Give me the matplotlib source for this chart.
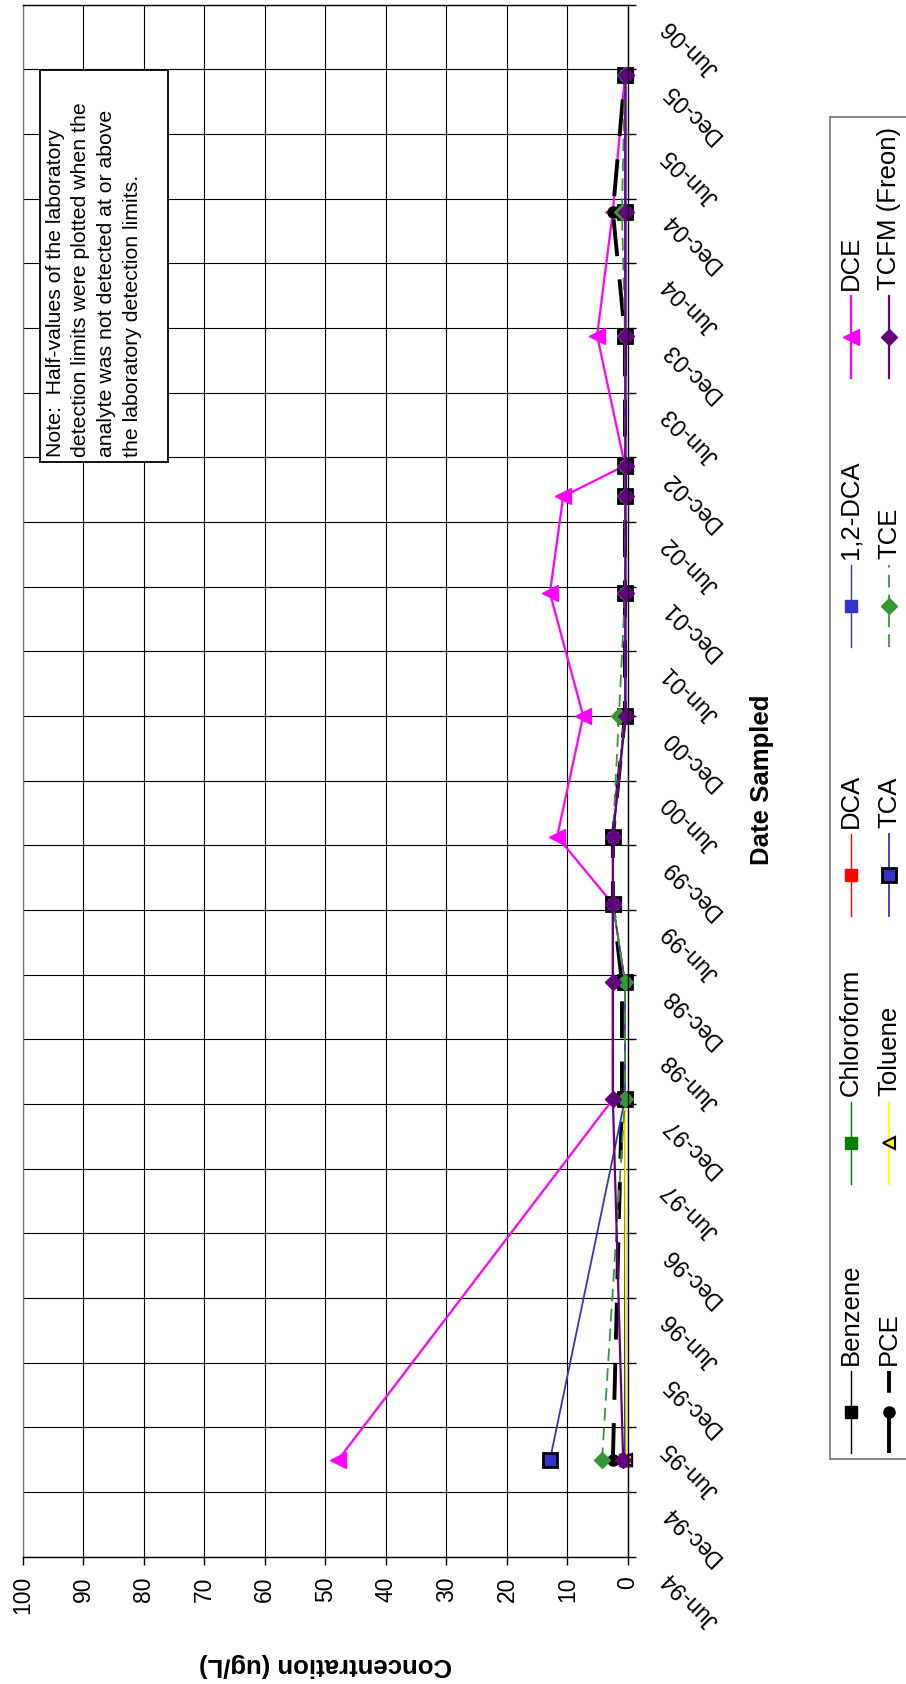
import matplotlib
matplotlib.use('Agg')
import matplotlib.pyplot as plt
import matplotlib.dates as mdates
import pandas as pd
from matplotlib.patches import Rectangle

plt.rcParams['font.family'] = ['Liberation Sans', 'DejaVu Sans']

# sample dates
sample_dates = pd.to_datetime([
    '1995-03-01', '1997-12-14', '1998-11-10', '1999-06-19', '1999-12-26', '2000-12-01',
    '2001-11-13', '2002-08-13', '2002-11-08', '2003-11-10', '2004-10-25', '2005-11-16'])

benzene = [0.5, 0.5, 0.5, 2.5, 2.5, 0.5, 0.5, 0.5, 0.5, 0.5, 0.5, 0.5]
chloroform = [0.5, 0.5, 0.5, 2.5, 2.5, 0.5, 0.5, 0.5, 0.5, 0.5, 0.5, 0.5]
dca = [0.25, 0.5, 0.5, 2.5, 2.5, 0.5, 0.5, 0.5, 0.5, 0.5, 0.5, 0.5]
dca_12 = [0.5, 0.5, 0.5, 2.5, 2.5, 0.5, 0.5, 0.5, 0.5, 0.5, 0.5, 0.5]
dce = [47.9, 2.5, 2.5, 2.5, 11.7, 7.4, 12.9, 10.7, 0.5, 5.1, 2.5, 0.5]
pce = [2.5, 1.0, 1.0, 2.5, 2.5, 0.5, 0.5, 0.5, 0.5, 0.5, 2.5, 0.5]
toluene = [0.25, 0.5, 0.5, 2.5, 2.5, 0.5, 0.5, 0.5, 0.5, 0.5, 0.5, 0.5]
tca = [12.9, 0.5, 0.5, 2.5, 2.5, 0.5, 0.5, 0.5, 0.5, 0.5, 0.5, 0.5]
tce = [4.3, 0.5, 0.5, 2.5, 2.5, 1.5, 0.5, 0.5, 0.5, 0.5, 1.0, 0.5]
tcfm = [0.8, 2.5, 2.5, 2.5, 2.5, 0.4, 0.4, 0.4, 0.4, 0.4, 0.4, 0.4]

series_names = ['Benzene', 'Chloroform', 'DCA', '1,2-DCA', 'DCE',
                'PCE', 'Toluene', 'TCA', 'TCE', 'TCFM (Freon)']
series_values = [benzene, chloroform, dca, dca_12, dce, pce, toluene, tca, tce, tcfm]

conc_ticks = list(range(0, 101, 10))
date_ticks = pd.date_range('1994-06-01', '2006-06-01', freq='6MS')
date_labels = [d.strftime('%b-%y') for d in date_ticks]

note = ("Note:  Half-values of the laboratory\n"
        "detection limits were plotted when the\n"
        "analyte was not detected at or above\n"
        "the laboratory detection limits.")

styles = [
    dict(color='black', lw=1.0, marker='s', ms=8.5, mfc='black', mec='black'),
    dict(color='#008000', lw=1.0, marker='s', ms=8.5, mfc='#008000', mec='#008000'),
    dict(color='#FF0000', lw=1.0, marker='s', ms=8.5, mfc='#FF0000', mec='#FF0000'),
    dict(color='#3333CC', lw=1.0, marker='s', ms=8.5, mfc='#3333CC', mec='#3333CC'),
    dict(color='#FF00FF', lw=1.6, marker='<', ms=11, mfc='#FF00FF', mec='#FF00FF'),
    dict(color='black', lw=2.8, ls=(0, (9.5, 6)), marker='o', ms=8, mfc='black', mec='black'),
    dict(color='#FFFF00', lw=1.3, marker='<', ms=8, mfc='#FFFF00', mec='black', mew=1.5),
    dict(color='#3333CC', lw=1.3, marker='s', ms=9.5, mfc='#3333CC', mec='black', mew=2),
    dict(color='#339933', lw=1.3, ls=(0, (7, 4)), marker='D', ms=8, mfc='#339933', mec='#339933'),
    dict(color='#660080', lw=1.6, marker='D', ms=8, mfc='#660080', mec='#660080'),
]

W, H = 906, 1684
fig = plt.figure(figsize=(W / 100, H / 100), dpi=100)
ax = fig.add_axes([22.7 / W, 1 - 1556.7 / H, 605.3 / W, 1551.7 / H])

for vals, st in zip(series_values, styles):
    ax.plot(vals, sample_dates, clip_on=False, **st)

ax.set_xlim(100, 0)
ax.set_ylim(date_ticks[0], date_ticks[-1])
ax.set_xticks(conc_ticks)
ax.set_xticklabels([str(v) for v in conc_ticks], rotation=90)
ax.set_yticks(date_ticks)
ax.yaxis.tick_right()
ax.tick_params(axis='y', labelright=False, length=6, width=1, direction='out')
ax.tick_params(axis='x', labelsize=16.5, length=6, width=1, direction='out', pad=8)
ax.grid(True, color='black', lw=0.8)
ax.set_axisbelow(True)
for sp in ax.spines.values():
    sp.set_color('black')
    sp.set_linewidth(1)
ax.spines['left'].set_color('#777777')

for d, lab in zip(date_ticks, date_labels):
    ax.annotate(lab, xy=(1, mdates.date2num(d)), xycoords=ax.get_yaxis_transform(),
                xytext=(38, -18), textcoords='offset pixels', rotation=135,
                rotation_mode='anchor', ha='right', va='center', fontsize=16.5)

# note box
ax.add_patch(Rectangle((0.0286, 0.7055), 0.2114, 0.2525, transform=ax.transAxes,
                       fc='white', ec='black', lw=1.3, zorder=5))
ax.text(0.038, 0.709, note, transform=ax.transAxes, rotation=90, ha='left', va='bottom',
        fontsize=15.3, linespacing=1.45, zorder=6)

fig.text(325 / W, 1 - 1665 / H, 'Concentration (ug/L)', rotation=180, ha='center',
         va='center', fontsize=18.5, fontweight='bold')
fig.text(762 / W, 1 - 780 / H, 'Date Sampled', rotation=90, ha='center',
         va='center', fontsize=18.5, fontweight='bold')

# legend, drawn by hand in pixel units so the entries can be rotated
lax = fig.add_axes([830 / W, 1 - 1459 / H, 0.2, (1459 - 117) / H])
lax.set_xlim(830, 830 + 0.2 * W)
lax.set_ylim(1459, 117)
lax.set_xticks([])
lax.set_yticks([])
lax.patch.set_alpha(0)
for sp in lax.spines.values():
    sp.set_color('#808080')
    sp.set_linewidth(1.3)

col_x = [851, 889]
row_y = [1412, 1143, 875, 606, 337]
for i, (name, st) in enumerate(zip(series_names, styles)):
    x = col_x[i // 5]
    y = row_y[i % 5]
    line_st = {k: v for k, v in st.items() if k not in ('marker', 'ms', 'mfc', 'mec', 'mew')}
    lax.plot([x, x], [y + 41, y - 41], **line_st)
    lax.plot([x], [y], ls='none', marker=st['marker'], ms=st['ms'], mfc=st['mfc'],
             mec=st['mec'], mew=st.get('mew', 1))
    lax.text(x, y - 47, name, rotation=90, ha='center', va='bottom', fontsize=18.5)

fig.savefig('out.png', dpi=100)
